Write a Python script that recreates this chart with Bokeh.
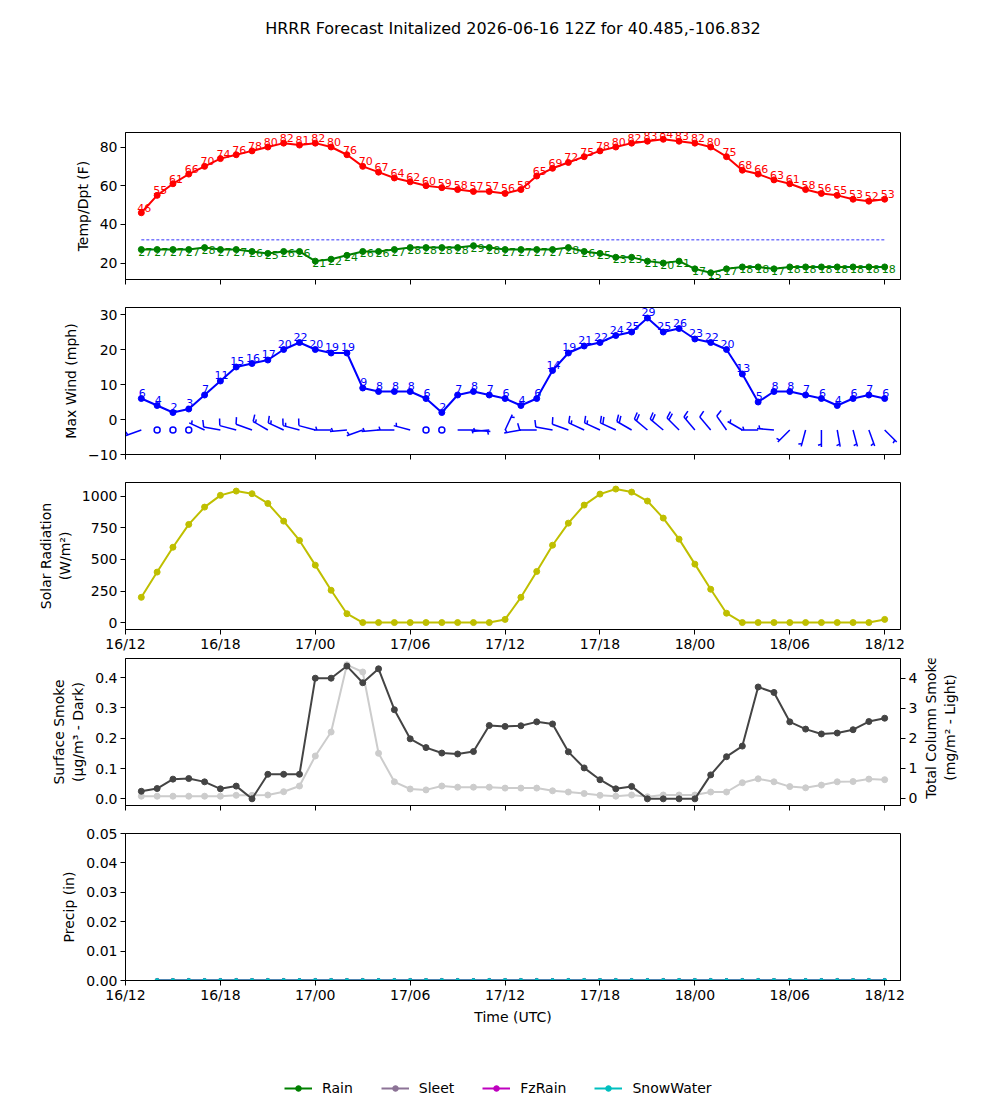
import numpy as np
import pandas as pd
from bokeh.plotting import figure
from bokeh.layouts import column, row
from bokeh.models import (Range1d, LinearAxis, FixedTicker, DatetimeTickFormatter,
                          PrintfTickFormatter, CustomJSTickFormatter, Legend, LegendItem,
                          ColumnDataSource)
from bokeh.core.properties import value
from bokeh.embed import file_html
from bokeh.resources import INLINE

FONT = "DejaVu Sans"
TITLE = "HRRR Forecast Initalized 2026-06-16 12Z for 40.485,-106.832"

# ---------------------------------------------------------------- data
RUN_START = pd.Timestamp("2026-06-16 12:00")
X_END = pd.Timestamp("2026-06-18 13:00")
times = pd.date_range("2026-06-16 13:00", periods=48, freq="h")
precip_times = times[1:]
tick_times = pd.date_range(RUN_START, periods=9, freq="6h")

temp = [46, 55, 61, 66, 70, 74, 76, 78, 80, 82, 81,
        82, 80, 76, 70, 67, 64, 62, 60, 59, 58, 57, 57, 56,
        58, 65, 69, 72, 75, 78, 80, 82, 83, 84, 83,
        82, 80, 75, 68, 66, 63, 61, 58, 56, 55, 53, 52, 53]
dewpt = [27, 27, 27, 27, 28, 27, 27, 26, 25, 26, 26,
         21, 22, 24, 26, 26, 27, 28, 28, 28, 28, 29, 28, 27,
         27, 27, 27, 28, 26, 25, 23, 23, 21, 20, 21,
         17, 15, 17, 18, 18, 17, 18, 18, 18, 18, 18, 18, 18]
FREEZING = 32

max_wind = [6, 4, 2, 3, 7, 11, 15, 16, 17, 20, 22,
            20, 19, 19, 9, 8, 8, 8, 6, 2, 7, 8, 7, 6,
            4, 6, 14, 19, 21, 22, 24, 25, 29, 25, 26,
            23, 22, 20, 13, 5, 8, 8, 7, 6, 4, 6, 7, 6]
# direction the wind blows from (deg) and barb speed (kt); 0 kt = calm
wind_dir = [250, 0, 0, 0, 295, 280, 285, 290, 300, 295, 285,
            285, 270, 265, 250, 265, 270, 285, 0, 0, 90, 95, 265, 25,
            260, 270, 280, 290, 295, 295, 295, 300, 310, 310, 315,
            320, 320, 325, 300, 270, 275, 225, 195, 180, 170, 165, 160, 135]
barb_kt = [5, 0, 0, 0, 5, 10, 10, 10, 15, 15, 15,
           10, 5, 5, 5, 5, 5, 5, 0, 0, 5, 5, 5, 5,
           5, 10, 10, 10, 15, 15, 20, 20, 20, 20, 20,
           15, 10, 10, 5, 5, 5, 5, 5, 5, 5, 5, 5, 5]
BARB_Y = -3

solar = [200, 400, 597, 778, 915, 1008, 1042, 1021, 944, 804, 651,
         455, 256, 70, 0, 0, 0, 0, 0, 0, 0, 0, 0, 25,
         200, 405, 613, 788, 931, 1018, 1058, 1034, 963, 828, 661,
         463, 264, 74, 0, 0, 0, 0, 0, 0, 0, 0, 0, 25]

smoke_sfc = [0.025, 0.034, 0.065, 0.067, 0.056, 0.033, 0.042, 0.0, 0.081, 0.081, 0.081,
             0.398, 0.398, 0.438, 0.383, 0.429, 0.294, 0.198, 0.169, 0.151, 0.148, 0.156, 0.242, 0.239,
             0.241, 0.254, 0.247, 0.155, 0.102, 0.063, 0.033, 0.041, 0.0, 0.0, 0.0,
             0.0, 0.079, 0.139, 0.174, 0.369, 0.351, 0.254, 0.230, 0.214, 0.217, 0.228, 0.255, 0.266]
smoke_col = [0.07, 0.07, 0.07, 0.07, 0.07, 0.07, 0.10, 0.10, 0.11, 0.22, 0.41,
             1.41, 2.21, 4.45, 4.21, 1.50, 0.55, 0.31, 0.28, 0.41, 0.37, 0.37, 0.37, 0.34,
             0.34, 0.34, 0.25, 0.21, 0.16, 0.10, 0.07, 0.11, 0.05, 0.11, 0.11,
             0.11, 0.21, 0.21, 0.52, 0.65, 0.55, 0.39, 0.35, 0.44, 0.55, 0.56, 0.64, 0.62]

rain = [0.0, 0.0, 0.0, 0.0, 0.0, 0.0, 0.0, 0.0, 0.0, 0.0, 0.0, 0.0, 0.0, 0.0, 0.0, 0.0,
        0.0, 0.0, 0.0, 0.0, 0.0, 0.0, 0.0, 0.0, 0.0, 0.0, 0.0, 0.0, 0.0, 0.0, 0.0, 0.0,
        0.0, 0.0, 0.0, 0.0, 0.0, 0.0, 0.0, 0.0, 0.0, 0.0, 0.0, 0.0, 0.0, 0.0, 0.0]
sleet = [0.0, 0.0, 0.0, 0.0, 0.0, 0.0, 0.0, 0.0, 0.0, 0.0, 0.0, 0.0, 0.0, 0.0, 0.0, 0.0,
         0.0, 0.0, 0.0, 0.0, 0.0, 0.0, 0.0, 0.0, 0.0, 0.0, 0.0, 0.0, 0.0, 0.0, 0.0, 0.0,
         0.0, 0.0, 0.0, 0.0, 0.0, 0.0, 0.0, 0.0, 0.0, 0.0, 0.0, 0.0, 0.0, 0.0, 0.0]
fzrain = [0.0, 0.0, 0.0, 0.0, 0.0, 0.0, 0.0, 0.0, 0.0, 0.0, 0.0, 0.0, 0.0, 0.0, 0.0, 0.0,
          0.0, 0.0, 0.0, 0.0, 0.0, 0.0, 0.0, 0.0, 0.0, 0.0, 0.0, 0.0, 0.0, 0.0, 0.0, 0.0,
          0.0, 0.0, 0.0, 0.0, 0.0, 0.0, 0.0, 0.0, 0.0, 0.0, 0.0, 0.0, 0.0, 0.0, 0.0]
snowwater = [0.0, 0.0, 0.0, 0.0, 0.0, 0.0, 0.0, 0.0, 0.0, 0.0, 0.0, 0.0, 0.0, 0.0, 0.0, 0.0,
             0.0, 0.0, 0.0, 0.0, 0.0, 0.0, 0.0, 0.0, 0.0, 0.0, 0.0, 0.0, 0.0, 0.0, 0.0, 0.0,
             0.0, 0.0, 0.0, 0.0, 0.0, 0.0, 0.0, 0.0, 0.0, 0.0, 0.0, 0.0, 0.0, 0.0, 0.0]
precip_names = ["Rain", "Sleet", "FzRain", "SnowWater"]
precip_colors = ["green", "#8c7396", "#bf00bf", "#00bfbf"]

# ---------------------------------------------------------------- layout helpers
FW, FH = 775, 147
x_range = Range1d(RUN_START, X_END)
x_ticks = [int(t.value // 10**6) for t in tick_times]


def style_axis(ax):
    ax.axis_line_color = "black"
    ax.major_tick_line_color = "black"
    ax.major_tick_out = 5
    ax.major_tick_in = 0
    ax.minor_tick_line_color = None
    ax.major_label_standoff = 3
    ax.major_label_text_font = FONT
    ax.major_label_text_font_size = "14px"
    ax.major_label_text_color = "black"
    ax.axis_label_text_font = FONT
    ax.axis_label_text_font_size = "14px"
    ax.axis_label_text_font_style = "normal"
    ax.axis_label_text_color = "black"
    ax.axis_label_standoff = 6


def bare_fig(width, height, xr, yr):
    p = figure(width=width, height=height, x_range=xr, y_range=yr,
               x_axis_location=None, y_axis_location=None,
               output_backend="svg", toolbar_location=None, min_border=0)
    p.xgrid.visible = False
    p.ygrid.visible = False
    p.outline_line_color = None
    p.background_fill_color = "white"
    p.border_fill_color = "white"
    return p


def make_fig(y_range, top, bottom, show_x_labels, ylabel, yticks, yfmt=None, right=100):
    p = figure(frame_width=FW, frame_height=FH, x_range=x_range, y_range=y_range,
               x_axis_type="datetime", output_backend="svg", toolbar_location=None,
               min_border_left=125, min_border_right=right,
               min_border_top=top, min_border_bottom=bottom)
    p.xgrid.visible = False
    p.ygrid.visible = False
    p.outline_line_color = "black"
    p.outline_line_alpha = 1
    p.background_fill_color = "white"
    p.border_fill_color = "white"
    p.xaxis.ticker = FixedTicker(ticks=x_ticks)
    if show_x_labels:
        p.xaxis.formatter = DatetimeTickFormatter(hours="%d/%H", days="%d/%H",
                                                  months="%d/%H", years="%d/%H")
    else:
        p.xaxis.formatter = CustomJSTickFormatter(code="return ''")
    p.yaxis.ticker = FixedTicker(ticks=yticks)
    if yfmt is not None:
        p.yaxis.formatter = PrintfTickFormatter(format=yfmt)
    p.yaxis.axis_label = ylabel
    style_axis(p.xaxis[0])
    style_axis(p.yaxis[0])
    return p


def label_glyph(p, src, field, color, x_off, y_off, baseline):
    p.text(x="t", y=field, text="lbl_" + field, source=src, text_color=color,
           text_font=value(FONT), text_font_size="11px", text_align="center",
           text_baseline=baseline, x_offset=x_off, y_offset=y_off)


# ---------------------------------------------------------------- title strip
TITLE_H = 56
head = bare_fig(1000, TITLE_H, Range1d(0, 1), Range1d(0, 1))
head.text(x=[0.5], y=[0.5], text=[TITLE], text_font=value(FONT), text_font_size="16px",
          text_color="black", text_align="center", text_baseline="middle")

# ---------------------------------------------------------------- temperature / dewpoint
src1 = ColumnDataSource(dict(t=times, temp=temp, dewpt=dewpt,
                             frz=[FREEZING] * len(times),
                             lbl_temp=[str(v) for v in temp],
                             lbl_dewpt=[str(v) for v in dewpt]))
p1 = make_fig(Range1d(11.5, 87.5), 132 - TITLE_H, 14, False, "Temp/Dpt (F)", [20, 40, 60, 80])
p1.line("t", "frz", source=src1, color="blue", line_width=0.8, line_dash="3 2")
p1.line("t", "temp", source=src1, color="red", line_width=2)
p1.scatter("t", "temp", source=src1, color="red", size=6)
p1.line("t", "dewpt", source=src1, color="green", line_width=2)
p1.scatter("t", "dewpt", source=src1, color="green", size=6)
label_glyph(p1, src1, "temp", "red", 3, -1, "bottom")
label_glyph(p1, src1, "dewpt", "green", 4, 2, "middle")

# ---------------------------------------------------------------- wind
WIND_LO, WIND_HI = -10, 32
src2 = ColumnDataSource(dict(t=times, wind=max_wind, lbl_wind=[str(v) for v in max_wind]))
p2 = make_fig(Range1d(WIND_LO, WIND_HI), 14, 14, False, "Max Wind (mph)", [-10, 0, 10, 20, 30])
p2.line("t", "wind", source=src2, color="blue", line_width=2)
p2.scatter("t", "wind", source=src2, color="blue", size=6)
label_glyph(p2, src2, "wind", "blue", 1, -2, "bottom")

# wind barbs: geometry built in screen pixels, converted to data units
px_per_ms = FW / ((X_END - RUN_START).total_seconds() * 1000.0)
px_per_mph = FH / (WIND_HI - WIND_LO)
BARB_LEN = 17.0
SPACING = 0.16 * BARB_LEN
FULL_H = 0.4 * BARB_LEN
t_ms = np.asarray(times.astype("int64") // 10**6, dtype=float)

seg = dict(x0=[], y0=[], x1=[], y1=[])
calm_t = []


def add_seg(t, a, b):
    seg["x0"].append(t + a[0] / px_per_ms)
    seg["y0"].append(BARB_Y + a[1] / px_per_mph)
    seg["x1"].append(t + b[0] / px_per_ms)
    seg["y1"].append(BARB_Y + b[1] / px_per_mph)


for t, d, kt in zip(t_ms, wind_dir, barb_kt):
    if kt < 5:
        calm_t.append(t)
        continue
    r = np.deg2rad(d)
    ux, uy = np.sin(r), np.cos(r)        # toward the wind source
    px, py = np.cos(r), -np.sin(r)       # feather side
    add_seg(t, (0.0, 0.0), (BARB_LEN * ux, BARB_LEN * uy))
    n_full, rest = divmod(kt, 10)
    half = rest >= 5
    pos = BARB_LEN
    if n_full == 0 and half:
        pos -= SPACING
    for _ in range(n_full):
        base = (pos * ux, pos * uy)
        tip = (base[0] + FULL_H * px + 0.3 * FULL_H * ux,
               base[1] + FULL_H * py + 0.3 * FULL_H * uy)
        add_seg(t, base, tip)
        pos -= SPACING
    if half:
        h = FULL_H / 2
        base = (pos * ux, pos * uy)
        tip = (base[0] + h * px + 0.3 * h * ux, base[1] + h * py + 0.3 * h * uy)
        add_seg(t, base, tip)

p2.segment(x0="x0", y0="y0", x1="x1", y1="y1", source=ColumnDataSource(seg),
           line_color="blue", line_width=1.5)
p2.scatter(x=calm_t, y=[BARB_Y] * len(calm_t), marker="circle", size=6,
           fill_color=None, line_color="blue", line_width=1.5)

# ---------------------------------------------------------------- solar radiation
p3 = make_fig(Range1d(-55, 1110), 14, 24, True, "Solar Radiation\n(W/m²)",
              [0, 250, 500, 750, 1000])
p3.xaxis.major_label_standoff = 1
p3.line(times, solar, color="#bfbf00", line_width=2)
p3.scatter(times, solar, color="#bfbf00", size=6)

# ---------------------------------------------------------------- smoke
SMOKE_TOP, SMOKE_BOTTOM, SMOKE_RIGHT = 4, 14, 20
p4 = make_fig(Range1d(-0.022, 0.463), SMOKE_TOP, SMOKE_BOTTOM, False,
              "Surface Smoke\n(μg/m³ - Dark)", [0.0, 0.1, 0.2, 0.3, 0.4], "%.1f",
              right=SMOKE_RIGHT)
p4.extra_y_ranges = {"column": Range1d(-0.24, 4.66)}
rax = LinearAxis(y_range_name="column", ticker=FixedTicker(ticks=[0, 1, 2, 3, 4]))
style_axis(rax)
rax.axis_label_standoff = 0
p4.add_layout(rax, "right")
p4.line(times, smoke_col, color="#cccccc", line_width=2, y_range_name="column")
p4.scatter(times, smoke_col, color="#cccccc", size=6, y_range_name="column")
p4.line(times, smoke_sfc, color="#444444", line_width=2)
p4.scatter(times, smoke_sfc, color="#444444", size=6)

# label for the right-hand (column smoke) axis, reading bottom to top
side_w = 1000 - 125 - FW - SMOKE_RIGHT
side_h = SMOKE_TOP + FH + SMOKE_BOTTOM
side = bare_fig(side_w, side_h, Range1d(0, side_w), Range1d(0, side_h))
side.text(x=[20], y=[SMOKE_BOTTOM + FH / 2], text=["Total Column Smoke\n(mg/m² - Light)"],
          angle=np.pi / 2, text_font=value(FONT), text_font_size="14px",
          text_color="black", text_align="center", text_baseline="middle")

# ---------------------------------------------------------------- precipitation
LEG_H = 26
p5 = make_fig(Range1d(0, 0.05), 14, 1100 - 832 - FH - LEG_H, True, "Precip (in)",
              [0.0, 0.01, 0.02, 0.03, 0.04, 0.05], "%.2f")
p5.xaxis.axis_label = "Time (UTC)"
p5.xaxis.major_label_standoff = 1
p5.xaxis.axis_label_standoff = 3
precip_series = [rain, sleet, fzrain, snowwater]
for series, color in zip(precip_series, precip_colors):
    p5.line(precip_times, series, color=color, line_width=2)
    p5.scatter(precip_times, series, color=color, size=4)

# legend strip: the same series drawn on a range that keeps them out of view,
# so only their legend keys show
leg_fig = bare_fig(1000, LEG_H, Range1d(RUN_START, X_END), Range1d(1, 2))
items = []
for name, series, color in zip(precip_names, precip_series, precip_colors):
    ln = leg_fig.line(precip_times, series, color=color, line_width=2)
    sc = leg_fig.scatter(precip_times, series, color=color, size=5)
    items.append(LegendItem(label=name, renderers=[ln, sc]))
legend = Legend(items=items, orientation="horizontal", location=(159, 5),
                border_line_alpha=0, background_fill_alpha=0,
                label_text_font=FONT, label_text_font_size="14px", label_text_color="black",
                glyph_width=28, glyph_height=14, spacing=28, label_standoff=10,
                padding=0, margin=0)
leg_fig.add_layout(legend)

layout = column(head, p1, p2, p3, row(p4, side, spacing=0), p5, leg_fig, spacing=0)
open("out.html", "w").write(file_html(layout, INLINE))
